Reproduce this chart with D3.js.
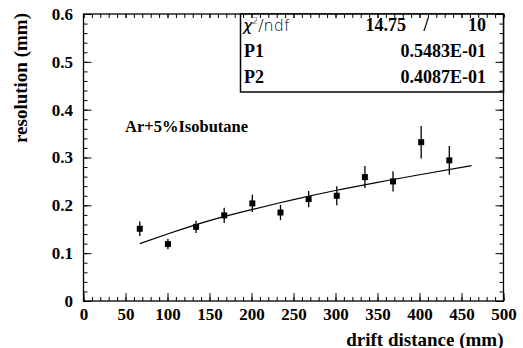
<!DOCTYPE html>
<html><head><meta charset="utf-8">
<script src="https://cdn.jsdelivr.net/npm/d3@7"></script>
<style>body{margin:0;background:#fff}svg{display:block}</style>
</head><body>
<script>
// ---- data ----
const driftDistance = [67, 100.5, 134, 167.5, 201, 234.5, 268, 301.5, 335, 368.5, 402, 435.5];
const resolution = [0.151, 0.119, 0.155, 0.179, 0.204, 0.185, 0.213, 0.220, 0.259, 0.250, 0.332, 0.294];
const resolutionErr = [0.015, 0.011, 0.013, 0.016, 0.018, 0.016, 0.017, 0.020, 0.023, 0.021, 0.034, 0.030];
const fitX = [67, 100, 150, 200, 250, 300, 350, 400, 462];
const fitY = [0.120, 0.140, 0.168, 0.191, 0.212, 0.231, 0.248, 0.264, 0.283];
const xTicks = [0, 50, 100, 150, 200, 250, 300, 350, 400, 450, 500];
const yTicks = [0, 0.1, 0.2, 0.3, 0.4, 0.5, 0.6];
const yTickLabels = ["0", "0.1", "0.2", "0.3", "0.4", "0.5", "0.6"];
const statsRows = [["P1", "0.5483E-01"], ["P2", "0.4087E-01"]];
const chi2Text = ["14.75", "/", "10"];

const W = 523, H = 348;
const L = 83.5, R = 503.5, T = 14, B = 301;
const serif = "'Liberation Serif','Times New Roman',serif";

const svg = d3.select("body").append("svg").attr("width", W).attr("height", H);
const x = d3.scaleLinear().domain([0, 500]).range([L, R]);
const y = d3.scaleLinear().domain([0, 0.6]).range([B, T]);

// frame
svg.append("rect").attr("x", L).attr("y", T).attr("width", R - L).attr("height", B - T)
  .attr("fill", "none").attr("stroke", "#000").attr("stroke-width", 1.3);

const xMinor = d3.range(0, 501, 10);
const yMinor = d3.range(0, 0.6001, 0.02);

// bottom
const gxMin = svg.append("g").attr("transform", `translate(0,${B})`)
  .call(d3.axisBottom(x).tickValues(xMinor).tickSize(-4).tickFormat(""));
const gx = svg.append("g").attr("transform", `translate(0,${B})`)
  .call(d3.axisBottom(x).tickValues(xTicks).tickSize(-8).tickPadding(6.5).tickFormat(d3.format("d")));
// left
const gyMin = svg.append("g").attr("transform", `translate(${L},0)`)
  .call(d3.axisLeft(y).tickValues(yMinor).tickSize(-4).tickFormat(""));
const gy = svg.append("g").attr("transform", `translate(${L},0)`)
  .call(d3.axisLeft(y).tickValues(yTicks).tickSize(-8).tickPadding(10.5).tickFormat((d, i) => yTickLabels[i]));

// axis titles
svg.append("text").attr("x", R).attr("y", 345.5).attr("text-anchor", "end")
  .attr("font-family", serif).attr("font-weight", "bold").attr("font-size", 19)
  .text("drift distance (mm)");
svg.append("text").attr("transform", `translate(27,13) rotate(-90)`).attr("text-anchor", "end")
  .attr("font-family", serif).attr("font-weight", "bold").attr("font-size", 19)
  .text("resolution (mm)");

// annotation
svg.append("text").attr("x", 125).attr("y", 132)
  .attr("font-family", serif).attr("font-weight", "bold").attr("font-size", 16.5)
  .text("Ar+5%Isobutane");

// fit curve
const fitData = fitX.map((d, i) => [d, fitY[i]]);
svg.append("path").datum(fitData)
  .attr("d", d3.line().x(d => x(d[0])).y(d => y(d[1])).curve(d3.curveNatural))
  .attr("fill", "none").attr("stroke", "#000").attr("stroke-width", 1.2);

// data points
const pts = driftDistance.map((d, i) => ({ x: d, y: resolution[i], e: resolutionErr[i] }));
svg.append("g").selectAll("line").data(pts).join("line")
  .attr("x1", d => x(d.x)).attr("x2", d => x(d.x))
  .attr("y1", d => y(d.y - d.e)).attr("y2", d => y(d.y + d.e))
  .attr("stroke", "#000").attr("stroke-width", 1.3);
svg.append("g").selectAll("rect").data(pts).join("rect")
  .attr("x", d => x(d.x) - 3).attr("y", d => y(d.y) - 3)
  .attr("width", 6).attr("height", 6).attr("fill", "#000");

// stats box
const bx0 = 240.5, by0 = T, bx1 = R, by1 = 92;
svg.append("rect").attr("x", bx0).attr("y", by0).attr("width", bx1 - bx0).attr("height", by1 - by0)
  .attr("fill", "#fff").attr("stroke", "#000").attr("stroke-width", 1.5);

// top and right ticks (drawn over the box)
const gtMin = svg.append("g").attr("transform", `translate(0,${T})`)
  .call(d3.axisTop(x).tickValues(xMinor).tickSize(-4).tickFormat(""));
const gt = svg.append("g").attr("transform", `translate(0,${T})`)
  .call(d3.axisTop(x).tickValues(xTicks).tickSize(-4).tickFormat(""));
const grMin = svg.append("g").attr("transform", `translate(${R},0)`)
  .call(d3.axisRight(y).tickValues(yMinor).tickSize(-4).tickFormat(""));
const gr = svg.append("g").attr("transform", `translate(${R},0)`)
  .call(d3.axisRight(y).tickValues(yTicks).tickSize(-8).tickFormat(""));

[gxMin, gx, gtMin, gt, gyMin, gy, grMin, gr].forEach(g => {
  g.select(".domain").remove();
  g.selectAll("line").attr("stroke", "#000").attr("stroke-width", 1);
  g.selectAll("text").attr("fill", "#000").attr("font-family", serif)
    .attr("font-weight", "bold").attr("font-size", 17);
});

const chiT = svg.append("text").attr("x", 243).attr("y", 31)
  .attr("font-family", "'DejaVu Sans','Liberation Sans',sans-serif").attr("font-weight", "300").attr("font-size", 16);
chiT.append("tspan").attr("font-style", "italic").text("χ");
chiT.append("tspan").attr("dy", -7).attr("font-size", 9).text("2");
chiT.append("tspan").attr("dy", 7).text("/ndf");

svg.append("text").attr("x", 406).attr("y", 31).attr("text-anchor", "end")
  .attr("font-family", serif).attr("font-weight", "bold").attr("font-size", 18).text(chi2Text[0]);
svg.append("text").attr("x", 426).attr("y", 31).attr("text-anchor", "middle")
  .attr("font-family", serif).attr("font-weight", "bold").attr("font-size", 18).text(chi2Text[1]);
svg.append("text").attr("x", 486).attr("y", 31).attr("text-anchor", "end")
  .attr("font-family", serif).attr("font-weight", "bold").attr("font-size", 18).text(chi2Text[2]);

statsRows.forEach((r, i) => {
  const yy = 57 + i * 25.5;
  svg.append("text").attr("x", 244).attr("y", yy)
    .attr("font-family", serif).attr("font-weight", "bold").attr("font-size", 18).text(r[0]);
  svg.append("text").attr("x", 486).attr("y", yy).attr("text-anchor", "end")
    .attr("font-family", serif).attr("font-weight", "bold").attr("font-size", 18).text(r[1]);
});
</script>
</body></html>
